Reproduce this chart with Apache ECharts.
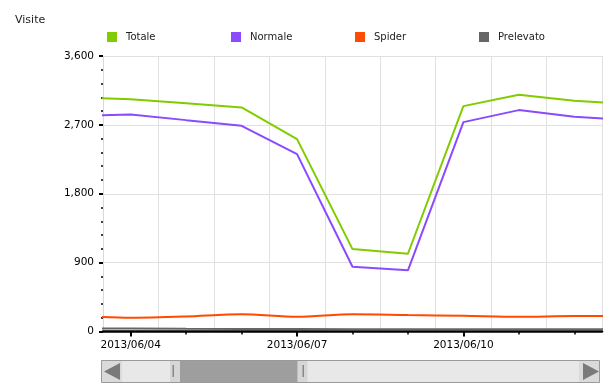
<!DOCTYPE html>
<html>
<head>
<meta charset="utf-8">
<script src="https://cdn.jsdelivr.net/npm/echarts@6/dist/echarts.min.js"></script>
<style>
html,body{margin:0;padding:0;background:#fff;}
#chart{width:616px;height:391px;}
</style>
</head>
<body>
<div id="chart"></div>
<script>
// Data (06/03 and 06/13 are partially visible at the clipped edges)
var dates = ['2013/06/03','2013/06/04','2013/06/05','2013/06/06','2013/06/07','2013/06/08','2013/06/09','2013/06/10','2013/06/11','2013/06/12','2013/06/13'];
var seriesNames = ['Totale','Normale','Spider','Prelevato'];
var totale    = [3056, 3036, 2984, 2928, 2514, 1077, 1016, 2945, 3093, 3014, 2972];
var normale   = [2817, 2837, 2762, 2688, 2318,  846,  799, 2736, 2893, 2805, 2763];
var spider    = [ 206,  180,  196,  225,  193,  225,  215,  206,  193,  202,  202];
var prelevato = [  40,   40,   36,   34,   32,   30,   28,   30,   28,   30,   30];
var yTicks = [0, 900, 1800, 2700, 3600];
var labelDays = [0, 3, 6];          // day offsets (from 2013/06/04) that carry a label
var minorDays = [1, 2, 4, 5, 7, 8];  // other daily ticks
var colors = ['#80cc00', '#8a4bff', '#ff4a00', '#666666'];

var FONT = 'DejaVu Sans';
function toXY(arr){ return arr.map(function(v,i){ return [i-1, v]; }); }
function fmt(v){ return String(v).replace(/\B(?=(\d{3})+(?!\d))/g, ','); }

var chart = echarts.init(document.getElementById('chart'), null, {renderer:'canvas'});

var legends = seriesNames.map(function(n, i){
  return {
    left: 107 + 124*i, top: 32, padding: 0,
    itemWidth: 10, itemHeight: 10, icon: 'rect',
    data: [n], selectedMode: false,
    textStyle: {fontFamily: FONT, fontSize: 10, color: '#222', padding: [0,0,0,4]}
  };
});

var allData = [totale, normale, spider, prelevato];

var option = {
  animation: false,
  color: colors,
  title: {text: 'Visite', left: 10, top: 10, textStyle: {fontFamily: FONT, fontSize: 11, fontWeight: 'normal', color: '#222'}},
  legend: legends,
  grid: {left: 103, right: 14, top: 56, bottom: 59.5},
  xAxis: [
    { // grid lines only (at mid-day)
      type: 'value', min: -0.5, max: 8.5, interval: 1, position: 'bottom',
      splitLine: {show: true, lineStyle: {color: '#e0e0e0', width: 1}},
      axisLine: {show: false, onZero: false},
      axisTick: {show: false},
      axisLabel: {show: false}
    },
    { // axis line and minor daily ticks
      type: 'value', min: -0.5, max: 8.5, position: 'bottom',
      splitLine: {show: false},
      axisLine: {show: true, onZero: false, lineStyle: {color: '#000', width: 2.5}},
      axisTick: {show: true, customValues: minorDays, length: 3, lineStyle: {color: '#000', width: 1.5}},
      axisLabel: {show: false}
    },
    { // labelled ticks
      type: 'value', min: -0.5, max: 8.5, position: 'bottom',
      splitLine: {show: false},
      axisLine: {show: false, onZero: false},
      axisTick: {show: true, customValues: labelDays, length: 5, lineStyle: {color: '#000', width: 2}},
      axisLabel: {show: true, customValues: labelDays, margin: 8, fontFamily: FONT, fontSize: 10.5, color: '#000',
        formatter: function(v){ return dates[Math.round(v)+1]; }}
    }
  ],
  yAxis: {
    type: 'value', min: yTicks[0], max: yTicks[yTicks.length-1], interval: yTicks[1]-yTicks[0],
    splitLine: {show: true, lineStyle: {color: '#e0e0e0', width: 1}},
    axisLine: {show: true, onZero: false, lineStyle: {color: '#dadada', width: 1}},
    axisTick: {show: true, length: 4, lineStyle: {color: '#000', width: 2}},
    minorTick: {show: true, splitNumber: 5, length: 2, lineStyle: {color: '#000', width: 1.5}},
    axisLabel: {margin: 9, fontFamily: FONT, fontSize: 10.5, color: '#000', formatter: fmt}
  },
  series: seriesNames.map(function(n, i){
    return {
      name: n, type: 'line', xAxisIndex: 0, data: toXY(allData[i]),
      showSymbol: false, symbol: 'none', clip: true,
      smooth: i === 2 ? 0.3 : false,
      lineStyle: {width: 2, color: colors[i]},
      z: 10 - i
    };
  }),
  graphic: [
    {type:'rect', shape:{x:101.5, y:360.5, width:498, height:22}, style:{fill:'#e8e8e8', stroke:'#9a9a9a', lineWidth:1}},
    {type:'rect', shape:{x:102, y:361, width:20, height:21}, style:{fill:'#dadada'}},
    {type:'polygon', shape:{points:[[104,371.5],[120,363],[120,380]]}, style:{fill:'#7a7a7a'}},
    {type:'rect', shape:{x:579, y:361, width:20, height:21}, style:{fill:'#dadada'}},
    {type:'polygon', shape:{points:[[599,371.5],[583,363],[583,380]]}, style:{fill:'#7a7a7a'}},
    {type:'rect', shape:{x:170, y:361, width:10, height:21}, style:{fill:'#d6d6d6'}},
    {type:'rect', shape:{x:297.5, y:361, width:10, height:21}, style:{fill:'#d6d6d6'}},
    {type:'rect', shape:{x:180, y:361, width:117.5, height:21}, style:{fill:'#9e9e9e'}},
    {type:'rect', shape:{x:172.5, y:365, width:1.5, height:12}, style:{fill:'#888'}},
    {type:'rect', shape:{x:302.5, y:365, width:1.5, height:12}, style:{fill:'#888'}}
  ]
};
chart.setOption(option);
</script>
</body>
</html>
